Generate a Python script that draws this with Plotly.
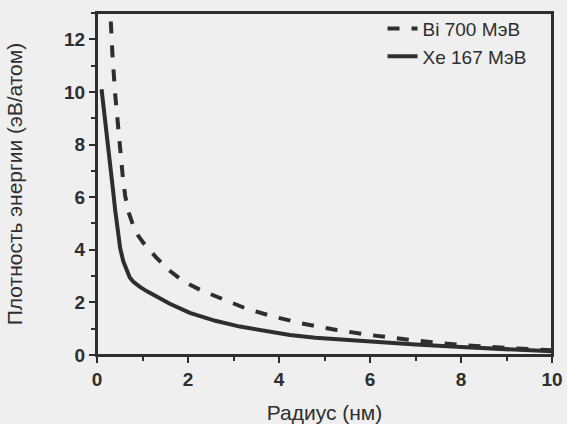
import plotly.graph_objects as go

# Xe 167 MeV (solid)
xe_x = [0.10, 0.15, 0.20, 0.25, 0.29, 0.35, 0.40, 0.45, 0.51, 0.58, 0.65, 0.72, 0.80, 0.88, 0.95, 1.10, 1.31, 1.60, 2.04, 2.60, 3.14, 3.70, 4.24, 4.80, 5.27, 6.0, 7.0, 8.0, 9.0, 10.0]
xe_y = [10.1, 9.4, 8.7, 7.9, 7.2, 6.3, 5.5, 4.7, 4.05, 3.55, 3.2, 2.95, 2.78, 2.66, 2.58, 2.42, 2.23, 1.95, 1.60, 1.30, 1.08, 0.90, 0.76, 0.66, 0.60, 0.50, 0.40, 0.30, 0.22, 0.14]

# Bi 700 MeV (dashed)
bi_x = [0.25, 0.29, 0.34, 0.40, 0.46, 0.51, 0.56, 0.62, 0.70, 0.80, 0.90, 1.02, 1.15, 1.31, 1.60, 1.90, 2.30, 2.78, 3.30, 3.88, 4.50, 5.27, 6.0, 7.0, 8.0, 9.0, 10.0]
bi_y = [14.5, 13.0, 11.4, 9.9, 8.6, 7.8, 6.9, 6.04, 5.4, 4.90, 4.55, 4.26, 3.98, 3.69, 3.20, 2.80, 2.45, 2.10, 1.75, 1.46, 1.20, 0.95, 0.76, 0.55, 0.38, 0.27, 0.18]

x_ticks = [0, 2, 4, 6, 8, 10]
y_ticks = [0, 2, 4, 6, 8, 10, 12]

bg = "#efefef"
ink = "#2e2e2e"
fam = "Arial, Liberation Sans, sans-serif"

fig = go.Figure()
fig.add_trace(go.Scatter(x=bi_x, y=bi_y, mode="lines", name="Bi 700 МэВ",
                         line=dict(color=ink, width=4, dash="dash")))
fig.add_trace(go.Scatter(x=xe_x, y=xe_y, mode="lines", name="Xe 167 МэВ",
                         line=dict(color=ink, width=4)))

common = dict(showline=True, linecolor=ink, linewidth=2, mirror=True,
              ticks="outside", ticklen=6, tickwidth=2, tickcolor=ink,
              showgrid=False, zeroline=False, tickmode="array", automargin=False,
              tickfont=dict(family=fam, size=19, color=ink),
              minor=dict(dtick=1, tick0=0, ticks="outside", ticklen=4, tickwidth=2,
                         tickcolor=ink, showgrid=False))

fig.update_xaxes(range=[0, 10], tickvals=x_ticks, ticktext=[f"<b>{v}</b>" for v in x_ticks],
                 title=dict(text="Радиус (нм)", font=dict(family=fam, size=21, color=ink), standoff=22),
                 **common)
fig.update_yaxes(range=[0, 13], tickvals=y_ticks, ticktext=[f"<b>{v}</b>" for v in y_ticks],
                 title=dict(text="Плотность энергии (эВ/атом)", font=dict(family=fam, size=21, color=ink), standoff=36),
                 **common)

# plot frame
fig.add_shape(type="rect", xref="paper", yref="paper", x0=0, y0=0, x1=1, y1=1,
              line=dict(color=ink, width=2), fillcolor="rgba(0,0,0,0)", layer="above")

fig.update_layout(
    width=567, height=424,
    margin=dict(l=97, r=15, t=13, b=69, autoexpand=False),
    paper_bgcolor=bg, plot_bgcolor="rgba(0,0,0,0)",
    legend=dict(x=0.955, y=1.01, xanchor="right", yanchor="top",
                bgcolor="rgba(0,0,0,0)", font=dict(family=fam, size=19, color=ink),
                tracegroupgap=0),
)

fig.write_html("out.html")
